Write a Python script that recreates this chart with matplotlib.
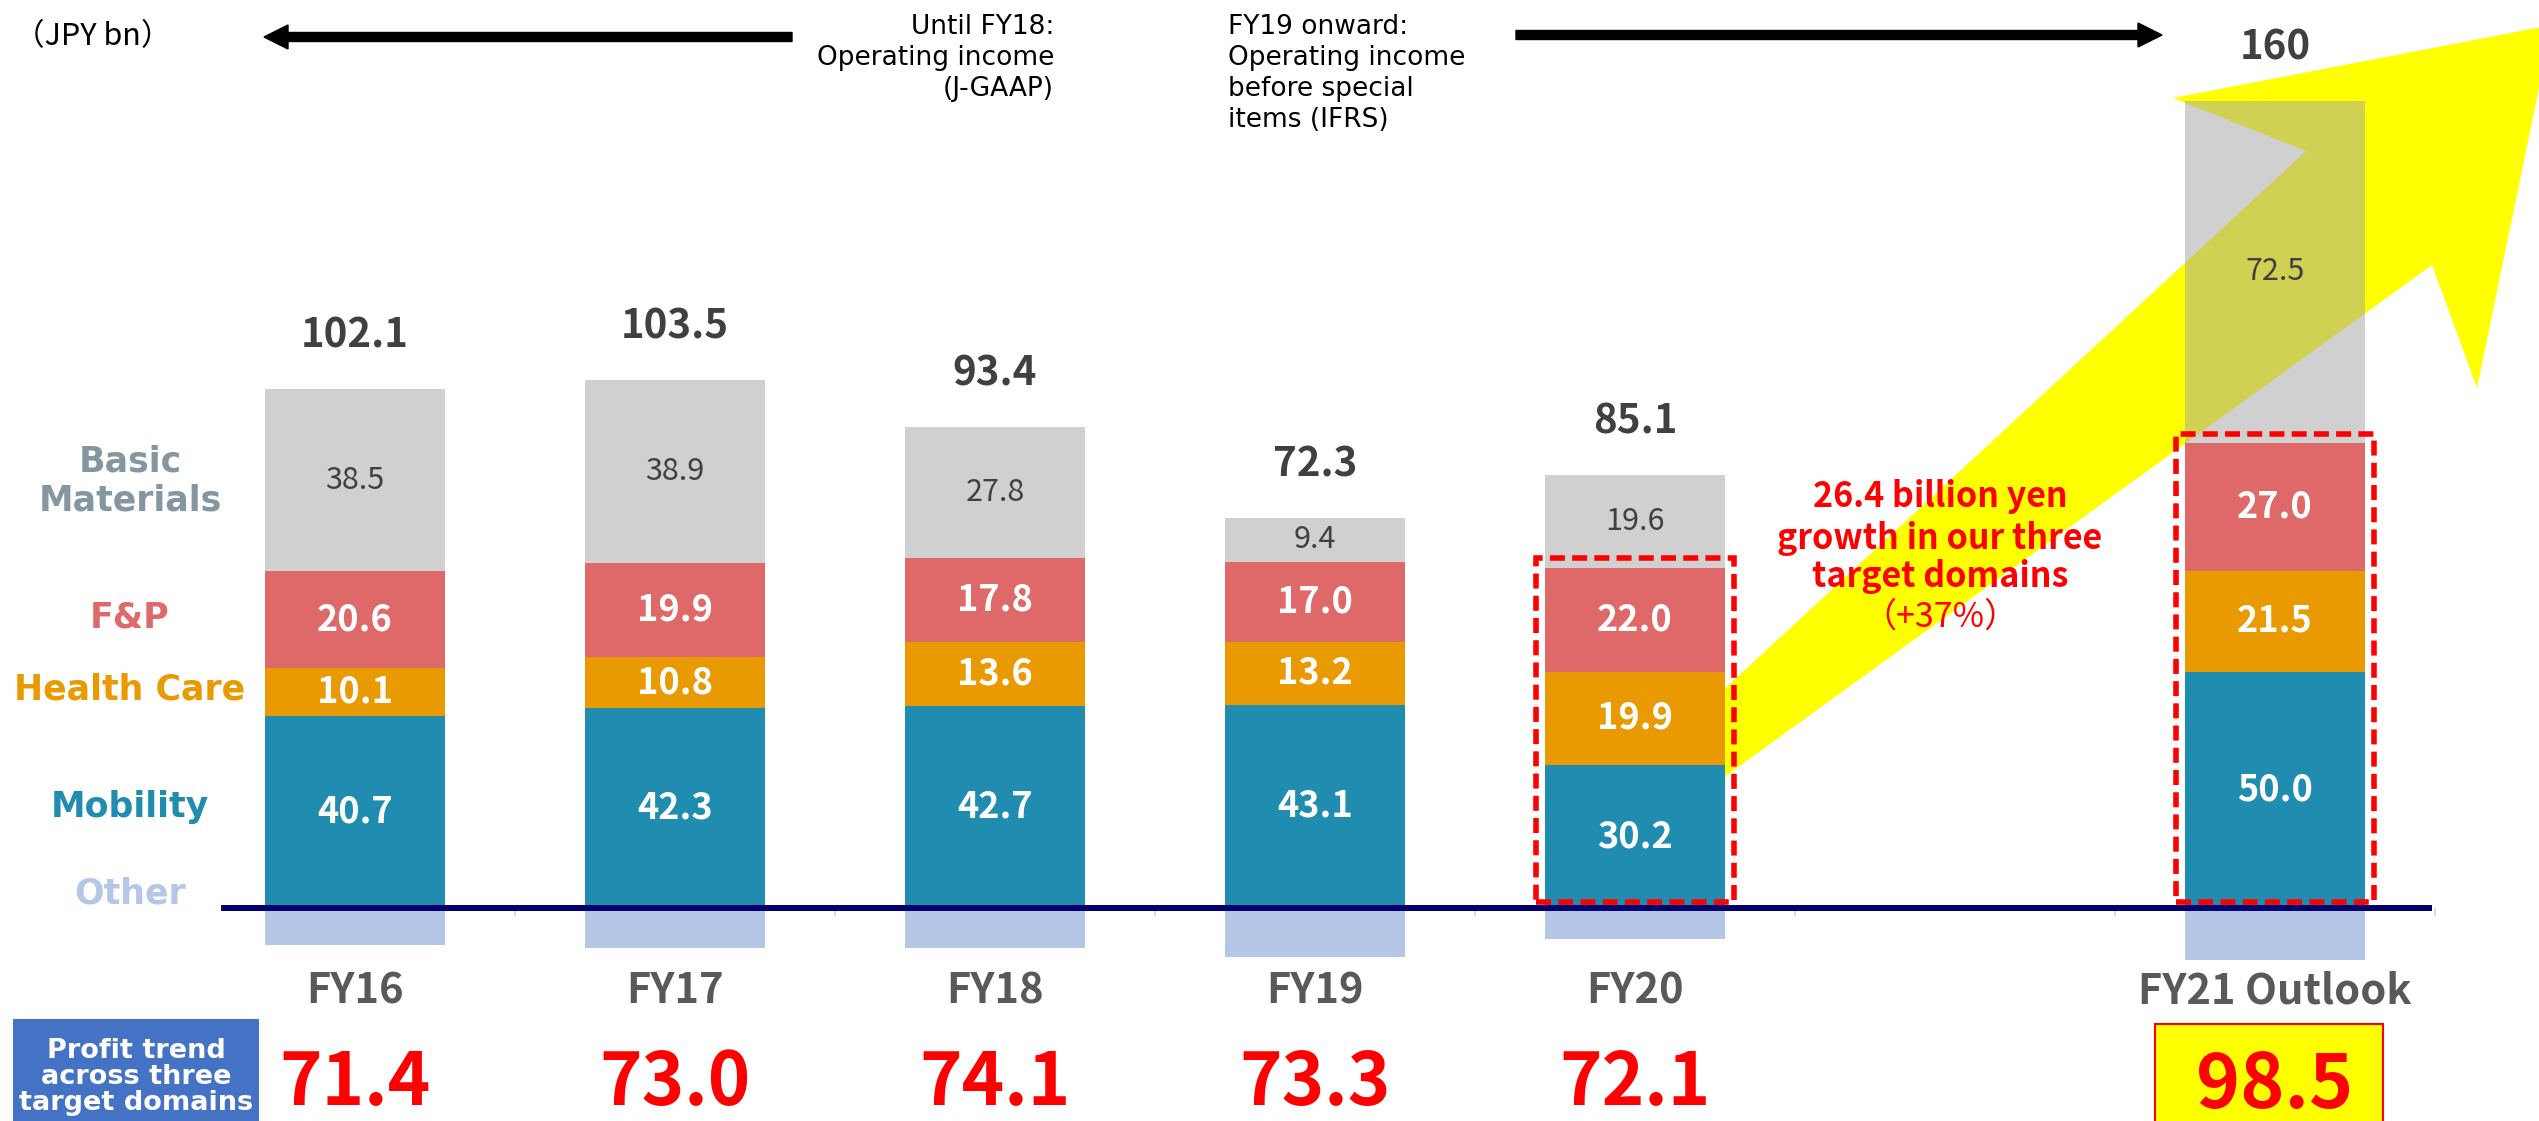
import numpy as np
import matplotlib.pyplot as plt
from matplotlib.patches import Rectangle, Polygon, FancyArrow

# --- data (JPY bn) ---
years = ['FY16', 'FY17', 'FY18', 'FY19', 'FY20', 'FY21 Outlook']
mobility = [40.7, 42.3, 42.7, 43.1, 30.2, 50.0]
health_care = [10.1, 10.8, 13.6, 13.2, 19.9, 21.5]
fp = [20.6, 19.9, 17.8, 17.0, 22.0, 27.0]
basic_materials = [38.5, 38.9, 27.8, 9.4, 19.6, 72.5]
other = [-7.8, -8.4, -8.5, -10.4, -6.6, -11.0]
totals = [102.1, 103.5, 93.4, 72.3, 85.1, 160]
target_domains = [71.4, 73.0, 74.1, 73.3, 72.1, 98.5]

C_MOB = '#208DB0'
C_HC = '#E99A00'
C_FP = '#DF6868'
C_BASIC = '#A3A3A3'   # drawn half transparent -> light gray on white
C_OTHER = '#B4C7E7'
C_NAVY = '#00006E'
C_DARK = '#404040'
NOTO = ['Noto Sans CJK JP', 'DejaVu Sans']

# figure is laid out in pixels of the 2539x1121 output
W, H = 2539, 1121
X0, DX = 355, 320      # pixel of first bar centre, pixels per slot
Y0, SY = 908, 4.72     # pixel of zero line, pixels per JPY bn


def to_data(px, py):
    return (px - X0) / DX, (Y0 - py) / SY


fig = plt.figure(figsize=(W / 100, H / 100), dpi=100)
ax = fig.add_axes([0, 0, 1, 1])
ax.set_xlim(to_data(0, 0)[0], to_data(W, 0)[0])
ax.set_ylim(to_data(0, H)[1], to_data(0, 0)[1])
ax.axis('off')

x = np.arange(len(years), dtype=float)
x[-1] += 1  # empty slot before the outlook
bw = 0.5625

mob = np.array(mobility)
hc = np.array(health_care)
fpa = np.array(fp)
bm = np.array(basic_materials)

ax.bar(x, mob, bw, color=C_MOB, zorder=3)
ax.bar(x, hc, bw, bottom=mob, color=C_HC, zorder=3)
ax.bar(x, fpa, bw, bottom=mob + hc, color=C_FP, zorder=3)
ax.bar(x, bm, bw, bottom=mob + hc + fpa, color=C_BASIC, alpha=0.51, zorder=3)
ax.bar(x, other, bw, color=C_OTHER, zorder=3)

# zero line and small category separators
ax.hlines(0, -0.42, 6.49, color=C_NAVY, lw=4.3, zorder=6)
ax.vlines(np.arange(0.5, 7, 1), -1.6, 0, color='#D9D9D9', lw=1.5, zorder=2)

# segment values
for i in range(len(years)):
    b = 0
    for vals in (mob, hc, fpa):
        ax.text(x[i], b + vals[i] / 2, f'{vals[i]:.1f}', ha='center', va='center',
                color='white', fontsize=26, fontweight='bold', family=NOTO, zorder=8)
        b += vals[i]
    ax.text(x[i], b + bm[i] / 2, f'{bm[i]:.1f}', ha='center', va='center',
            color=C_DARK, fontsize=22, family=NOTO, zorder=8)
    top = b + bm[i]
    ax.annotate(f'{totals[i]:g}', (x[i], top), xytext=(0, 38), textcoords='offset points',
                ha='center', va='center', color=C_DARK, fontsize=29,
                fontweight='bold', family=NOTO, zorder=8)
    ax.text(x[i], to_data(0, 991)[1], years[i], ha='center', va='center', color='#595959',
            fontsize=30, fontweight='bold', family=NOTO)
    if i < len(years) - 1:
        ax.text(x[i], to_data(0, 1084)[1], f'{target_domains[i]:.1f}', ha='center',
                va='center', color='red', fontsize=52, fontweight='bold', family=NOTO)

# outlook value in a yellow box
bx0, by0 = to_data(2155, 1024)
bx1, by1 = to_data(2383, 1140)
ax.add_patch(Rectangle((bx0, by1), bx1 - bx0, by0 - by1, facecolor='yellow',
                       edgecolor='red', lw=1.5, zorder=4))
ax.text(x[-1], to_data(0, 1086)[1], f'{target_domains[-1]:.1f}', ha='center', va='center',
        color='red', fontsize=54, fontweight='bold', family=NOTO, zorder=5)

# yellow growth arrow (behind the bars)
arrow_px = [(1640, 767), (2306, 151), (2173, 98), (2552, 25),
            (2477, 388), (2432, 265), (1640, 838)]
ax.add_patch(Polygon([to_data(*p) for p in arrow_px], closed=True,
                     facecolor='#FFFF00', edgecolor='none', zorder=1))

# dashed boxes around the three target domains
for i in (4, 5):
    top = mob[i] + hc[i] + fpa[i]
    ax.add_patch(Rectangle((x[i] - 0.31, 1.2), 0.62, top + 0.8, fill=False,
                           edgecolor='#FF0000', lw=4, linestyle=(0, (2.7, 1.3)), zorder=7))

growth_lines = [('26.4 billion yen', 497, 'bold'), ('growth in our three', 538, 'bold'),
                ('target domains', 577, 'bold'), ('（+37%）', 617, 'normal')]
for txt, py, wt in growth_lines:
    ax.text(*to_data(1940, py), txt, ha='center', va='center', color='#FF0000',
            fontsize=24.5, fontweight=wt, family=NOTO, zorder=8)

# segment names on the left
seg_labels = [('Basic\nMaterials', 481, '#8497A0'), ('F&P', 617, C_FP),
              ('Health Care', 690, C_HC), ('Mobility', 807, C_MOB), ('Other', 893, C_OTHER)]
for txt, py, col in seg_labels:
    ax.text(*to_data(130, py), txt, ha='center', va='center', color=col, fontsize=25,
            fontweight='bold', family='DejaVu Sans', linespacing=1.2)

# accounting-standard notes and arrows at the top
ax.text(*to_data(14, 37), '（JPY bn）', ha='left', va='center', fontsize=22, family=NOTO)
ax.text(*to_data(1054, 14), 'Until FY18:\nOperating income\n(J-GAAP)', ha='right', va='top',
        fontsize=19, family='DejaVu Sans', linespacing=1.25, multialignment='right')
ax.text(*to_data(1228, 14), 'FY19 onward:\nOperating income\nbefore special\nitems (IFRS)',
        ha='left', va='top', fontsize=19, family='DejaVu Sans', linespacing=1.25)

for tail, tip in (((792, 37), (264, 37)), ((1516, 35), (2162, 35))):
    tx, ty = to_data(*tail)
    hx, _ = to_data(*tip)
    ax.add_patch(FancyArrow(tx, ty, hx - tx, 0, width=9 / SY, head_width=24 / SY,
                            head_length=24 / DX, length_includes_head=True,
                            color='black', zorder=5))

# left label box for the bottom row
fig.patches.append(Rectangle((13 / W, 0), 246 / W, 102 / H, transform=fig.transFigure,
                             facecolor='#4472C4', edgecolor='none'))
fig.text(136 / W, 1 - 1077 / H, 'Profit trend\nacross three\ntarget domains', ha='center',
         va='center', color='white', fontsize=19.5, fontweight='bold', family='DejaVu Sans',
         linespacing=1.02)

fig.savefig('out.png', dpi=100)
